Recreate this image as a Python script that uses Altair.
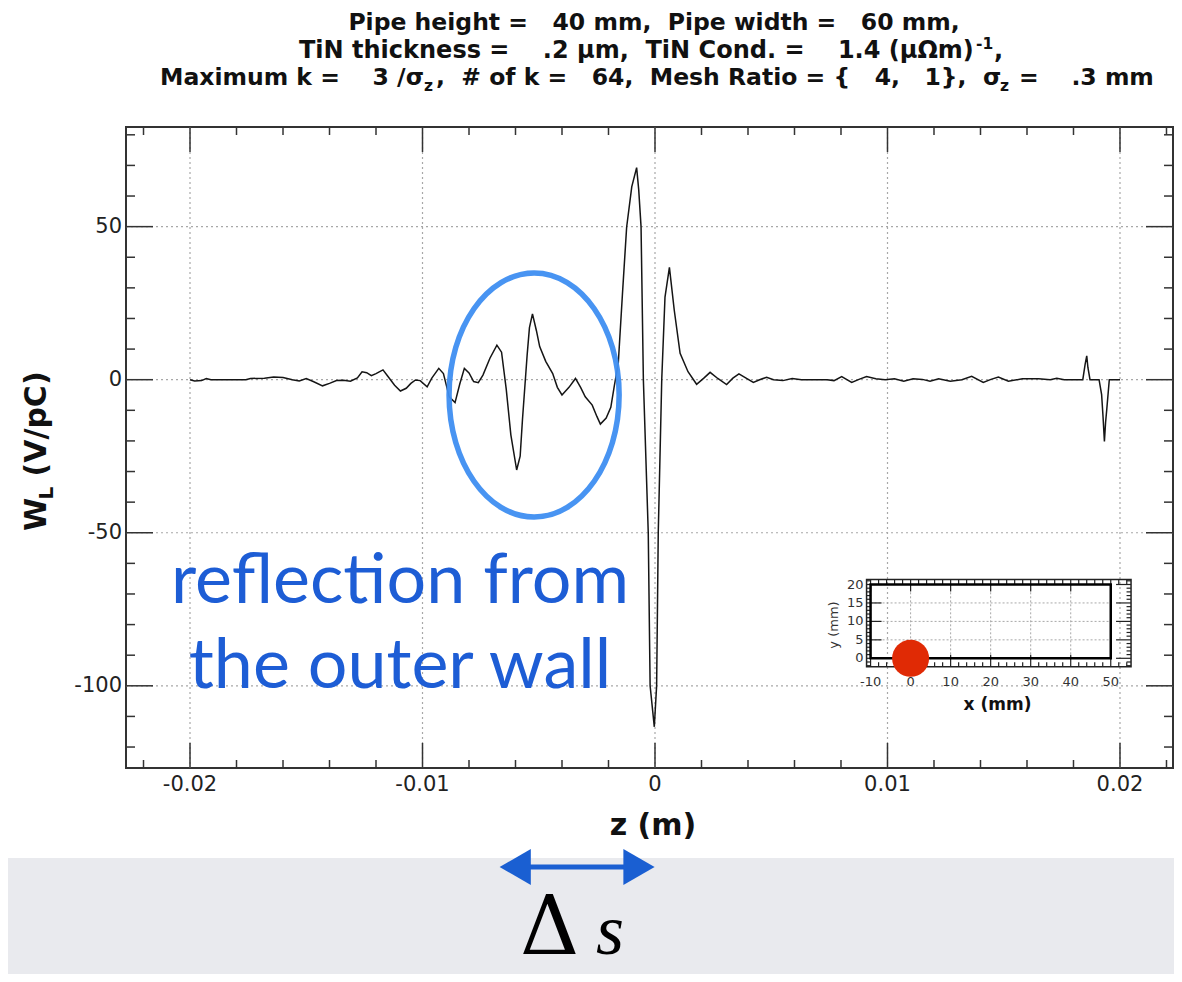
import altair as alt
import pandas as pd

# ---------------- data ----------------
z_m = [-0.0200, -0.0198, -0.0195, -0.0193, -0.0191, -0.0176, -0.0174, -0.0168, -0.0164, -0.0160,
       -0.0156, -0.0153, -0.0150, -0.0147, -0.0143, -0.0140, -0.0137, -0.0134, -0.0131, -0.0128,
       -0.0126, -0.0124, -0.0122, -0.0120, -0.0117, -0.0115, -0.0112, -0.01095, -0.0107, -0.0105,
       -0.0103, -0.0101, -0.0098, -0.0096, -0.0093, -0.0091, -0.00885, -0.0086, -0.0084, -0.0082,
       -0.0080, -0.0078, -0.0076, -0.0074, -0.0071, -0.0068, -0.0066, -0.0064, -0.0062, -0.00595,
       -0.0058, -0.0057, -0.0055, -0.0054, -0.00527, -0.0051, -0.00496, -0.0047, -0.0044, -0.0042,
       -0.0040, -0.0037, -0.00342, -0.0032, -0.0030, -0.0027, -0.0025, -0.00235, -0.0021, -0.0019,
       -0.00175, -0.00158, -0.0014, -0.00122, -0.0010, -0.00079, -0.0007, -0.0006, -0.0005, -0.00029,
       -0.00021, -0.00003, 0.00007, 0.00014, 0.00029, 0.00043, 0.00062, 0.00083, 0.00108, 0.00142,
       0.00179, 0.0021, 0.00237, 0.0027, 0.00308, 0.00335, 0.00361, 0.0039, 0.00423, 0.0045,
       0.0048, 0.0051, 0.0055, 0.0059, 0.0063, 0.0074, 0.0077, 0.00803, 0.00846, 0.0088,
       0.0091, 0.0095, 0.0099, 0.0103, 0.0107, 0.0111, 0.0115, 0.01183, 0.0122, 0.0127,
       0.0132, 0.01362, 0.01412, 0.01445, 0.01477, 0.0152, 0.0158, 0.0165, 0.0170, 0.01728,
       0.0176, 0.0184, 0.0185, 0.01857, 0.01862, 0.01871, 0.0191, 0.01921, 0.01927, 0.01933,
       0.01938, 0.01943, 0.01954, 0.0200]
wl = [0.0, -0.4, -0.3, 0.4, 0.0, 0.0, 0.4, 0.5, 0.9, 0.7,
      0.0, -0.4, 0.4, -0.6, -2.0, -1.2, -0.3, -0.2, -0.5, 0.6,
      2.6, 2.3, 1.3, 2.0, 3.2, 1.2, -1.8, -3.7, -2.8, -1.2,
      -0.1, -0.3, -2.3, 0.5, 3.7, 2.0, -5.6, -7.5, -1.5, 3.7,
      2.2, -0.6, -1.0, 1.5, 7.0, 11.3, 9.0, -3.0, -18.0, -29.5,
      -25.0, -13.0, 8.0, 17.0, 21.5, 16.0, 10.8, 6.0, 2.0, -2.5,
      -5.0, -2.5, 0.4, -2.5, -5.6, -8.3, -12.0, -14.5, -12.5, -9.0,
      -2.0, 5.3, 28.0, 49.8, 63.0, 69.3, 62.0, 50.0, 0.0, -50.0,
      -100.0, -113.4, -100.0, -50.0, 0.0, 27.0, 36.7, 22.6, 8.6, 2.6,
      -1.5, 0.5, 2.4, 0.4, -1.6, 0.5, 1.9, 0.6, -0.9, 0.0,
      0.8, 0.0, -0.3, 0.4, 0.0, 0.0, -0.3, 1.0, -0.9, 0.2,
      1.0, 0.3, 0.0, 0.3, -0.5, 0.3, 0.1, -0.5, 0.3, -0.5,
      0.0, 1.1, -0.9, 0.1, 0.9, -0.5, 0.3, 0.3, 0.0, 0.5,
      0.0, 0.0, 5.0, 7.8, 4.0, 0.0, 0.0, -4.9, -12.0, -20.2,
      -14.0, -9.8, 0.0, 0.0]

x_major = [-0.02, -0.01, 0.0, 0.01, 0.02]
x_major_labels = ["-0.02", "-0.01", "0", "0.01", "0.02"]
x_minor = [-0.022, -0.018, -0.016, -0.014, -0.012, -0.008, -0.006, -0.004, -0.002,
           0.002, 0.004, 0.006, 0.008, 0.012, 0.014, 0.016, 0.018, 0.022]
y_major = [-100, -50, 0, 50]
y_major_labels = ["-100", "-50", "0", "50"]
y_minor = [-120, -110, -90, -80, -70, -60, -40, -30, -20, -10, 10, 20, 30, 40, 60, 70, 80]

# inset (pipe cross-section), in mm
inset_x_major = [-10, 0, 10, 20, 30, 40, 50]
inset_x_labels = ["-10", "0", "10", "20", "30", "40", "50"]
inset_x_minor = [-8, -6, -4, -2, 2, 4, 6, 8, 12, 14, 16, 18, 22, 24, 26, 28,
                 32, 34, 36, 38, 42, 44, 46, 48, 52, 54]
inset_y_major = [0, 5, 10, 15, 20]
inset_y_labels = ["0", "5", "10", "15", "20"]
inset_y_minor = [-2, -1, 1, 2, 3, 4, 6, 7, 8, 9, 11, 12, 13, 14, 16, 17, 18, 19, 21]
inset_grid_x = [0, 10, 20, 30, 40]
inset_grid_y = [5, 10, 15]
inset_x_range = [-11.0, 55.07]
inset_y_range = [-2.28, 21.36]
pipe_x = [-10, 50]
pipe_y = [0, 20]
beam_x = [0]
beam_y = [0]

# annotations
ellipse_z = [-0.0052]
ellipse_w = [-5.0]
arrow_z = [-0.0067, 0.0]

NB = "\u00a0"
title_1 = f"Pipe height ={NB*3}40 mm,{NB*2}Pipe width ={NB*3}60 mm,"
title_2a = f"TiN thickness ={NB*4}.2 μm,{NB*2}TiN Cond. ={NB*4}1.4 (μΩm)"
title_2b = "-1"
title_2c = ","
title_3a = f"Maximum k ={NB*4}3 /σ"
title_3b = "z"
title_3c = f",{NB*2}# of k ={NB*3}64,{NB*2}Mesh Ratio = {{{NB*3}4,{NB*3}1}},{NB*2}σ"
title_3d = "z"
title_3e = f"={NB*4}.3 mm"
x_title = "z (m)"
y_title_a = "W"
y_title_b = "L"
y_title_c = "(V/pC)"
inset_x_title = "x (mm)"
inset_y_title = "y (mm)"
note_1 = "reflection from"
note_2 = "the outer wall"
delta_txt = "Δ"
s_txt = "s"

# ---------------- layout ----------------
W, H = 1047, 641
PAD = {"left": 118, "top": 119, "right": 1, "bottom": 206}
XD = [-0.022753, 0.02228]
YD = [-126.85, 82.55]
XS = alt.Scale(domain=XD, nice=False, zero=False)
YS = alt.Scale(domain=YD, nice=False, zero=False)
PXU = W / (XD[1] - XD[0])
PYU = H / (YD[1] - YD[0])

# inset placement inside the plot (plot-relative pixels of inset origin, px per mm)
INSET_X0, INSET_KX = 784.6, 4.003
INSET_Y0, INSET_KY = 531.3, 3.69


def ix(v):  # inset mm -> main z
    return XD[0] + (INSET_X0 + INSET_KX * v) / PXU


def iy(v):  # inset mm -> main W
    return YD[1] - (INSET_Y0 - INSET_KY * v) / PYU


I_L = INSET_X0 + INSET_KX * inset_x_range[0]
I_R = INSET_X0 + INSET_KX * inset_x_range[1]
I_B = INSET_Y0 - INSET_KY * inset_y_range[0]
I_T = INSET_Y0 - INSET_KY * inset_y_range[1]

ONE = pd.DataFrame({"k": [0]})
FRAME = "#333333"
BLUE_TXT = "#1d5dd5"
BLUE_RING = "#3f8ff2"
ARROW = "#1a5fd2"


def X(f="z"):
    return alt.X(f"{f}:Q", scale=XS, axis=None)


def Y(f="w"):
    return alt.Y(f"{f}:Q", scale=YS, axis=None)


def txt(s, x, y, size, font="DejaVu Sans", weight="normal", align="left",
        baseline="alphabetic", angle=0, color="#111111", style="normal"):
    return alt.Chart(ONE).mark_text(
        text=s, font=font, fontSize=size, fontWeight=weight, align=align,
        baseline=baseline, angle=angle, color=color, fontStyle=style
    ).encode(x=alt.value(x), y=alt.value(y))


L = []

# gray band at bottom
L.append(alt.Chart(ONE).mark_rect(color="#e9eaee").encode(
    x=alt.value(-PAD["left"]), x2=alt.value(W + PAD["right"]),
    y=alt.value(731), y2=alt.value(H + PAD["bottom"])))

# grid lines
L.append(alt.Chart(pd.DataFrame({"z": x_major})).mark_rule(
    color="#a8a8a8", strokeDash=[2, 3], strokeWidth=1.2).encode(x=X()))
L.append(alt.Chart(pd.DataFrame({"w": y_major})).mark_rule(
    color="#a8a8a8", strokeDash=[2, 3], strokeWidth=1.2).encode(y=Y()))

# ---- inset ----
ig_x = pd.DataFrame({"z": [ix(v) for v in inset_grid_x], "w": iy(pipe_y[0]), "w2": iy(pipe_y[1])})
ig_y = pd.DataFrame({"w": [iy(v) for v in inset_grid_y], "z": ix(pipe_x[0]), "z2": ix(pipe_x[1])})
L.append(alt.Chart(ig_x).mark_rule(color="#a8a8a8", strokeDash=[2, 2], strokeWidth=1).encode(
    x=X(), y=Y(), y2="w2:Q"))
L.append(alt.Chart(ig_y).mark_rule(color="#a8a8a8", strokeDash=[2, 2], strokeWidth=1).encode(
    y=Y(), x=X(), x2="z2:Q"))

for vals, ln in ((inset_x_major, 12), (inset_x_minor, 4.5)):
    df = pd.DataFrame({"z": [ix(v) for v in vals]})
    L.append(alt.Chart(df).mark_rule(color="#222222", strokeWidth=1.2).encode(
        x=X(), y=alt.value(I_B), y2=alt.value(I_B - ln)))
    L.append(alt.Chart(df).mark_rule(color="#222222", strokeWidth=1.2).encode(
        x=X(), y=alt.value(I_T), y2=alt.value(I_T + ln)))
for vals, ln in ((inset_y_major, 15), (inset_y_minor, 4.5)):
    df = pd.DataFrame({"w": [iy(v) for v in vals]})
    L.append(alt.Chart(df).mark_rule(color="#222222", strokeWidth=1.2).encode(
        y=Y(), x=alt.value(I_L), x2=alt.value(I_L + ln)))
    L.append(alt.Chart(df).mark_rule(color="#222222", strokeWidth=1.2).encode(
        y=Y(), x=alt.value(I_R), x2=alt.value(I_R - ln)))

L.append(alt.Chart(ONE).mark_rect(fillOpacity=0, stroke="#222222", strokeWidth=1.5).encode(
    x=alt.value(I_L), x2=alt.value(I_R), y=alt.value(I_T), y2=alt.value(I_B)))

pipe = pd.DataFrame({"z": [ix(pipe_x[0])], "z2": [ix(pipe_x[1])],
                     "w": [iy(pipe_y[0])], "w2": [iy(pipe_y[1])]})
L.append(alt.Chart(pipe).mark_rect(fillOpacity=0, stroke="#000000", strokeWidth=2.5).encode(
    x=X(), x2="z2:Q", y=Y(), y2="w2:Q"))

beam = pd.DataFrame({"z": [ix(v) for v in beam_x], "w": [iy(v) for v in beam_y]})
L.append(alt.Chart(beam).mark_point(shape="circle", size=1369, filled=True,
                                    color="#e02a05", opacity=1).encode(x=X(), y=Y()))

ixl = pd.DataFrame({"z": [ix(v) for v in inset_x_major], "t": inset_x_labels})
iyl = pd.DataFrame({"w": [iy(v) for v in inset_y_major], "t": inset_y_labels})
L.append(alt.Chart(ixl).mark_text(font="DejaVu Sans", fontSize=13, color="#333333",
                                  baseline="middle", align="center").encode(
    x=X(), y=alt.value(I_B + 15), text="t:N"))
L.append(alt.Chart(iyl).mark_text(font="DejaVu Sans", fontSize=13, color="#333333",
                                  baseline="middle", align="right").encode(
    y=Y(), x=alt.value(I_L - 3), text="t:N"))
L.append(txt(inset_x_title, 871.5, 578, 17, weight="bold", align="center", baseline="middle"))
L.append(txt(inset_y_title, 707.5, 498, 13, align="center", baseline="middle",
             angle=270, color="#333333"))

# ---- waveform ----
wave = pd.DataFrame({"z": z_m, "w": wl})
L.append(alt.Chart(wave).mark_line(color="#151515", strokeWidth=1.5).encode(x=X(), y=Y()))

# ellipse highlight
ELL = ("M 0.697 0 C 0.697 0.552 0.385 1 0 1 C -0.385 1 -0.697 0.552 -0.697 0 "
       "C -0.697 -0.552 -0.385 -1 0 -1 C 0.385 -1 0.697 -0.552 0.697 0 Z")
ell = pd.DataFrame({"z": ellipse_z, "w": ellipse_w})
L.append(alt.Chart(ell).mark_point(shape=ELL, size=59536, filled=False,
                                   stroke=BLUE_RING, strokeWidth=5.5, opacity=0.95).encode(x=X(), y=Y()))

# main ticks (inward)
for vals, ln in ((x_major, 25), (x_minor, 8)):
    df = pd.DataFrame({"z": vals})
    L.append(alt.Chart(df).mark_rule(color=FRAME, strokeWidth=1.5).encode(
        x=X(), y=alt.value(H), y2=alt.value(H - ln)))
    L.append(alt.Chart(df).mark_rule(color=FRAME, strokeWidth=1.5).encode(
        x=X(), y=alt.value(0), y2=alt.value(ln)))
for vals, ln in ((y_major, 27), (y_minor, 9)):
    df = pd.DataFrame({"w": vals})
    L.append(alt.Chart(df).mark_rule(color=FRAME, strokeWidth=1.5).encode(
        y=Y(), x=alt.value(0), x2=alt.value(ln)))
    L.append(alt.Chart(df).mark_rule(color=FRAME, strokeWidth=1.5).encode(
        y=Y(), x=alt.value(W), x2=alt.value(W - ln)))

# tick labels
xl = pd.DataFrame({"z": x_major, "t": x_major_labels})
yl = pd.DataFrame({"w": y_major, "t": y_major_labels})
L.append(alt.Chart(xl).mark_text(font="DejaVu Sans", fontSize=21, color="#222222",
                                 baseline="middle", align="center").encode(
    x=X(), y=alt.value(658), text="t:N"))
L.append(alt.Chart(yl).mark_text(font="DejaVu Sans", fontSize=21, color="#222222",
                                 baseline="middle", align="right").encode(
    y=Y(), x=alt.value(-4), text="t:N"))

# axis titles
L.append(txt(x_title, 527, 699, 30, weight="bold", align="center", baseline="middle"))
L.append(txt(y_title_a, -80, 404, 30, weight="bold", angle=270))
L.append(txt(y_title_b, -73, 372.6, 20, weight="bold", angle=270))
L.append(txt(y_title_c, -80, 349.5, 30, weight="bold", angle=270))

# chart title (three lines)
L.append(txt(title_1, 528, -97, 23.5, weight="bold", align="center"))
L.append(txt(title_2a, 173, -69, 24, weight="bold"))
L.append(txt(title_2b, 850, -78, 15.5, weight="bold"))
L.append(txt(title_2c, 868, -69, 24, weight="bold"))
L.append(txt(title_3a, 34, -42, 23.5, weight="bold"))
L.append(txt(title_3b, 298, -36, 15.5, weight="bold"))
L.append(txt(title_3c, 310, -42, 23.5, weight="bold"))
L.append(txt(title_3d, 874, -36, 15.5, weight="bold"))
L.append(txt(title_3e, 893, -42, 23.5, weight="bold"))

# annotation text
L.append(txt(note_1, 274, 476, 70, font="Lato", align="center", color=BLUE_TXT))
L.append(txt(note_2, 274, 561, 70, font="Lato", align="center", color=BLUE_TXT))

# double arrow (delta s)
head = 16.0
shaft = pd.DataFrame({"z": [arrow_z[0] + 18 / PXU], "z2": [arrow_z[1] - 18 / PXU]})
L.append(alt.Chart(shaft).mark_rule(color=ARROW, strokeWidth=5).encode(
    x=X(), x2="z2:Q", y=alt.value(740)))
L.append(alt.Chart(pd.DataFrame({"z": [arrow_z[0] + head / PXU]})).mark_point(
    shape="triangle-left", size=1300, filled=True, color=ARROW, opacity=1).encode(
    x=X(), y=alt.value(740)))
L.append(alt.Chart(pd.DataFrame({"z": [arrow_z[1] - head / PXU]})).mark_point(
    shape="triangle-right", size=1300, filled=True, color=ARROW, opacity=1).encode(
    x=X(), y=alt.value(740)))
L.append(txt(delta_txt, 394, 827, 82, font="DejaVu Serif", color="#000000"))
L.append(txt(s_txt, 470, 827, 72, font="Liberation Serif", style="italic", color="#000000"))

chart = alt.layer(*L).properties(
    width=W, height=H, padding=PAD, autosize=alt.AutoSizeParams(type="none"),
    background="white"
).configure_view(stroke=FRAME, strokeWidth=2)

chart.save("out.html", embed_options={"renderer": "svg", "actions": False})
